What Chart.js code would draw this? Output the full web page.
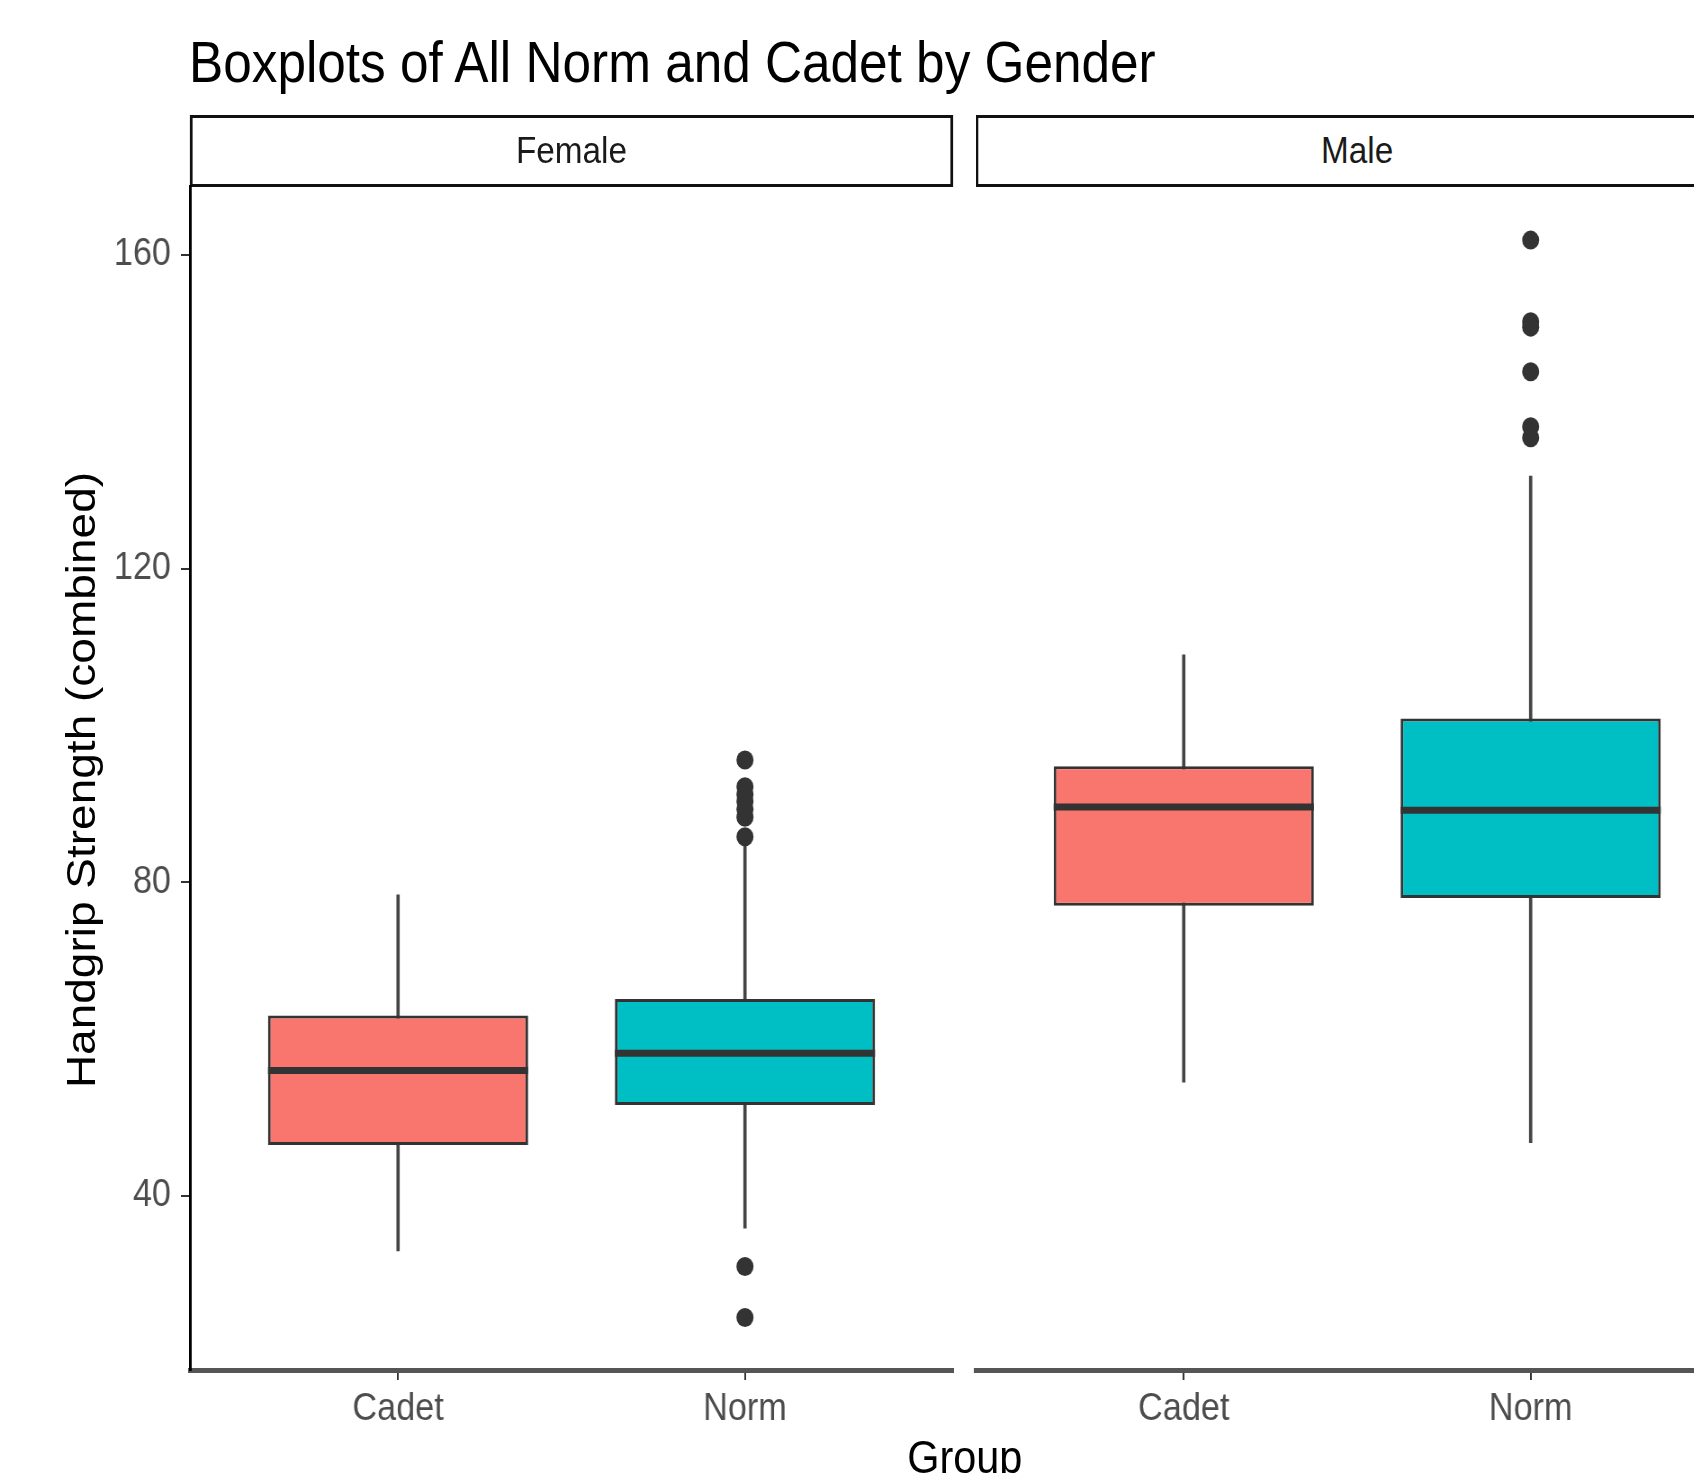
<!DOCTYPE html>
<html>
<head>
<meta charset="utf-8">
<script src="https://cdn.jsdelivr.net/npm/chart.js@4.4.1/dist/chart.umd.min.js"></script>
<style>
  body { margin: 0; background: #ffffff; overflow: hidden; }
  #page {
    position: absolute; left: 0; top: 0; width: 1882px; height: 1473px;
    transform: scaleX(0.9); transform-origin: 0 0;
    font-family: "Liberation Sans", Arial, sans-serif;
  }
  .title { position: absolute; left: 210px; top: 34px; font-size: 57px; line-height: 57px; color: #000; white-space: nowrap; }
  .strip {
    position: absolute; top: 115px; height: 72px; width: 848px; box-sizing: border-box;
    border: 3px solid #111; background: #fff; color: #1a1a1a; font-size: 37px;
    display: flex; align-items: center; justify-content: center;
  }
  .ytitle {
    position: absolute; left: 90px; top: 780px; font-size: 46px; line-height: 46px; color: #000;
    white-space: nowrap; transform: translate(-50%, -50%) rotate(-90deg);
  }
  .xtitle { position: absolute; left: 1072px; top: 1434px; font-size: 46px; line-height: 46px; color: #000; transform: translateX(-50%); }
  canvas { position: absolute; }
</style>
</head>
<body>
<div id="page">
  <div class="title">Boxplots of All Norm and Cadet by Gender</div>
  <div class="strip" style="left:211px">Female</div>
  <div class="strip" style="left:1084px">Male</div>
  <div class="ytitle">Handgrip Strength (combined)</div>
  <div class="xtitle">Group</div>
  <canvas id="panel-female" width="1070" height="1297" style="left:0px;top:176px"></canvas>
  <canvas id="panel-male" width="868" height="1297" style="left:1074px;top:176px"></canvas>
</div>
<script>
(function () {
  var GROUPS = ["Cadet", "Norm"];
  var FILLS = ["#F8766D", "#00BFC4"];
  var Y_TICKS = [40, 80, 120, 160];
  var Y_MIN = 17.8;
  var Y_MAX = 168.8;
  var BOX_WIDTH = 0.75;

  // female panel: Cadet, Norm
  var FEMALE_LOW = [33.0, 35.9];
  var FEMALE_Q1 = [46.5, 51.6];
  var FEMALE_MEDIAN = [56.0, 58.2];
  var FEMALE_Q3 = [63.0, 65.1];
  var FEMALE_HIGH = [78.4, 85.0];
  var FEMALE_OUTLIERS = [
    [],
    [95.6, 92.2, 91.2, 90.3, 89.3, 88.3, 85.8, 31.0, 24.5]
  ];

  // male panel: Cadet, Norm
  var MALE_LOW = [54.5, 46.8];
  var MALE_Q1 = [77.0, 78.0];
  var MALE_MEDIAN = [89.6, 89.2];
  var MALE_Q3 = [94.8, 100.9];
  var MALE_HIGH = [109.0, 131.8];
  var MALE_OUTLIERS = [
    [],
    [161.9, 151.5, 150.8, 145.1, 138.1, 136.7]
  ];

  Chart.defaults.font.family = '"Liberation Sans", Arial, sans-serif';

  function buildPanel(canvasId, lows, q1s, medians, q3s, highs, outliers, showY, padding) {
    var whiskers = GROUPS.map(function (g, i) {
      return { x: i + 1, y: [lows[i], highs[i]] };
    });
    var boxes = GROUPS.map(function (g, i) {
      return { x: i + 1, y: [q1s[i], q3s[i]] };
    });
    var points = [];
    outliers.forEach(function (list, i) {
      list.forEach(function (v) {
        points.push({ x: i + 1, y: v });
      });
    });

    var datasets = [
      {
        type: "bar",
        data: whiskers,
        backgroundColor: "#444444",
        barThickness: 3,
        grouped: false,
        order: 4
      },
      {
        type: "bar",
        data: boxes,
        backgroundColor: FILLS,
        borderColor: "#333333",
        borderWidth: 3,
        borderSkipped: false,
        barPercentage: BOX_WIDTH,
        categoryPercentage: 1,
        grouped: false,
        order: 3
      }
    ];

    GROUPS.forEach(function (g, i) {
      datasets.push({
        type: "line",
        data: [
          { x: i + 1 - BOX_WIDTH / 2, y: medians[i] },
          { x: i + 1 + BOX_WIDTH / 2, y: medians[i] }
        ],
        borderColor: "#333333",
        borderWidth: 7,
        pointRadius: 0,
        order: 2
      });
    });

    datasets.push({
      type: "scatter",
      data: points,
      pointRadius: 9.5,
      pointBackgroundColor: "#333333",
      pointBorderWidth: 0,
      order: 1
    });

    return new Chart(document.getElementById(canvasId), {
      type: "bar",
      data: { datasets: datasets },
      options: {
        responsive: false,
        animation: false,
        events: [],
        layout: { padding: padding, autoPadding: false },
        plugins: { legend: { display: false }, tooltip: { enabled: false } },
        scales: {
          x: {
            type: "linear",
            min: 0.4,
            max: 2.6,
            offset: false,
            afterBuildTicks: function (axis) {
              axis.ticks = GROUPS.map(function (g, i) { return { value: i + 1 }; });
            },
            afterFit: function (axis) {
              axis.height = 103;
              axis.paddingLeft = 0;
              axis.paddingRight = 0;
            },
            ticks: {
              callback: function (value, index) { return GROUPS[index]; },
              color: "#4d4d4d",
              font: { size: 38 },
              padding: 7,
              maxRotation: 0,
              autoSkip: false
            },
            grid: { display: true, drawOnChartArea: false, drawTicks: true, tickLength: 10, lineWidth: 2, color: "#333333", offset: false },
            border: { display: true, color: "#555555", width: 5 }
          },
          y: {
            type: "linear",
            min: Y_MIN,
            max: Y_MAX,
            display: showY,
            afterBuildTicks: function (axis) {
              axis.ticks = Y_TICKS.map(function (v) { return { value: v }; });
            },
            afterFit: function (axis) {
              axis.width = showY ? 211 : 0;
              axis.paddingTop = 0;
              axis.paddingBottom = 0;
            },
            ticks: { color: "#4d4d4d", font: { size: 38 }, padding: 11 },
            grid: { display: true, drawOnChartArea: false, drawTicks: true, tickLength: 10, lineWidth: 2, color: "#333333" },
            border: { display: true, color: "#000000", width: 3 }
          }
        }
      }
    });
  }

  buildPanel("panel-female", FEMALE_LOW, FEMALE_Q1, FEMALE_MEDIAN, FEMALE_Q3, FEMALE_HIGH, FEMALE_OUTLIERS,
    true, { top: 10, right: 11, bottom: 0, left: 0 });
  buildPanel("panel-male", MALE_LOW, MALE_Q1, MALE_MEDIAN, MALE_Q3, MALE_HIGH, MALE_OUTLIERS,
    false, { top: 10, right: 10, bottom: 0, left: 10 });
})();
</script>
</body>
</html>
